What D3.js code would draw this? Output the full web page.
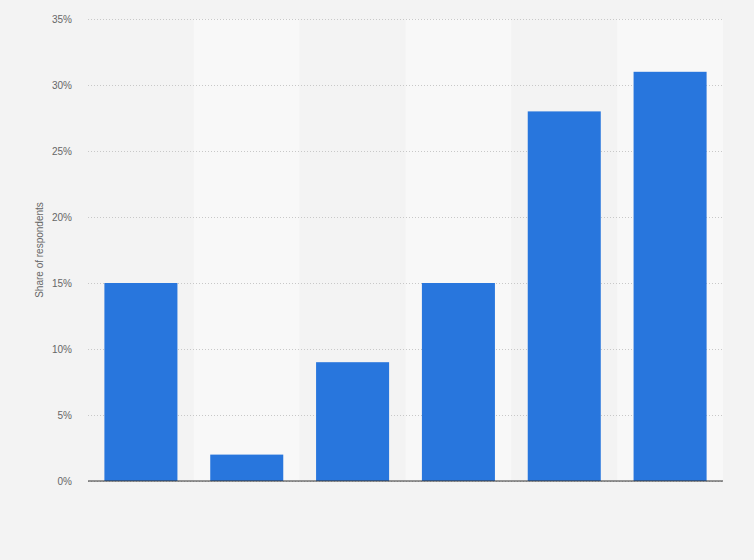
<!DOCTYPE html>
<html>
<head>
<meta charset="utf-8">
<script src="https://cdn.jsdelivr.net/npm/d3@7"></script>
<style>
  html, body { margin: 0; padding: 0; background: #f3f3f3; }
  svg { display: block; font-family: "Liberation Sans", Arial, sans-serif; }
</style>
</head>
<body>
<svg id="chart" width="754" height="560"></svg>
<script>
// categories have no visible labels in the reference
var categories = ['c1', 'c2', 'c3', 'c4', 'c5', 'c6'];
var shares = [15, 2, 9, 15, 28, 31];
var yTicks = [0, 5, 10, 15, 20, 25, 30, 35];

var svg = d3.select('#chart'),
  margin = {top: 19, right: 31, bottom: 79, left: 88},
  width = +svg.attr('width') - margin.left - margin.right,
  height = +svg.attr('height') - margin.top - margin.bottom;

var g = svg.append('g')
  .attr('transform', 'translate(' + margin.left + ',' + margin.top + ')');

var x = d3.scaleBand()
  .domain(categories)
  .range([0, width])
  .padding(0);

var y = d3.scaleLinear()
  .domain([0, 35])
  .range([height, 0]);

// alternating column backgrounds
g.append('g').selectAll('rect')
  .data(categories)
  .join('rect')
    .attr('x', function(d) { return x(d); })
    .attr('y', 0)
    .attr('width', x.bandwidth())
    .attr('height', height)
    .attr('fill', function(d, i) { return i % 2 ? '#f8f8f8' : '#f3f3f3'; });

// grid + labels
var yAxis = g.append('g')
  .call(d3.axisLeft(y)
    .tickValues(yTicks)
    .tickSize(-width)
    .tickPadding(16)
    .tickFormat(function(d) { return d + '%'; }));
yAxis.select('.domain').remove();
yAxis.selectAll('.tick line')
  .attr('stroke', '#c8c8c8')
  .attr('stroke-dasharray', '1,2');
yAxis.selectAll('.tick text')
  .attr('fill', '#666')
  .style('font-size', '10px');

var barW = x.bandwidth() * 0.69;
g.append('g').selectAll('rect')
  .data(shares)
  .join('rect')
    .attr('x', function(d, i) { return x(categories[i]) + (x.bandwidth() - barW) / 2; })
    .attr('y', function(d) { return y(d); })
    .attr('width', barW)
    .attr('height', function(d) { return height - y(d); })
    .attr('fill', '#2876dd');

// baseline
g.append('line')
  .attr('x1', 0)
  .attr('x2', width)
  .attr('y1', y(0))
  .attr('y2', y(0))
  .attr('stroke', '#333')
  .attr('stroke-width', 1);

svg.append('text')
  .attr('transform', 'translate(43,' + (margin.top + height / 2) + ') rotate(-90)')
  .attr('text-anchor', 'middle')
  .attr('fill', '#666')
  .style('font-size', '10px')
  .text('Share of respondents');
</script>
</body>
</html>
